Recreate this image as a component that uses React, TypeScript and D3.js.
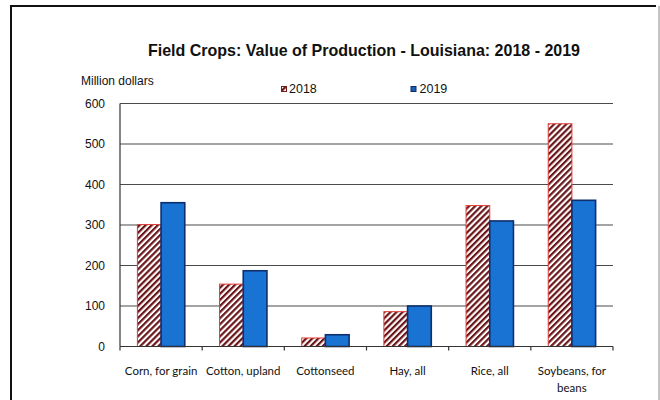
import React from "react";
import * as d3 from "d3";

const categories = ["Corn, for grain", "Cotton, upland", "Cottonseed", "Hay, all", "Rice, all", "Soybeans, for beans"];
const seriesNames = ["2018", "2019"];
const values2018 = [301, 154, 21, 86, 348, 550];
const values2019 = [355, 187, 29, 100, 310, 361];
const yTicks = [0, 100, 200, 300, 400, 500, 600];
const title = "Field Crops: Value of Production - Louisiana: 2018 - 2019";
const yAxisTitle = "Million dollars";

const W = 660;
const H = 400;
const plot = { left: 120, right: 613, top: 103.5, bottom: 346.5 };

function wrap(label: string, maxChars: number): string[] {
  if (label.length <= maxChars + 2) return [label];
  const words = label.split(" ");
  const lines: string[] = [];
  let cur = "";
  for (const w of words) {
    const t = cur ? cur + " " + w : w;
    if (t.length > maxChars && cur) {
      lines.push(cur);
      cur = w;
    } else cur = t;
  }
  if (cur) lines.push(cur);
  return lines;
}

export default function App() {
  const x0 = d3.scaleBand<string>().domain(categories).range([plot.left, plot.right]).paddingInner(0).paddingOuter(0);
  const x1 = d3.scaleBand<string>().domain(seriesNames).range([0, x0.bandwidth()]).paddingInner(0).paddingOuter(0.734);
  const y = d3.scaleLinear().domain([0, 600]).range([plot.bottom, plot.top]);
  const narrow = "'Liberation Sans Narrow', 'Arial Narrow', 'Liberation Sans', Arial, sans-serif";
  const data = [values2018, values2019];
  const boundaries = categories.map((c) => x0(c) as number).concat([plot.right]);

  return (
    <svg width={W} height={H} style={{ position: "absolute", left: 0, top: 0, background: "#fff" }}>
      <defs>
        <pattern id="hatch" patternUnits="userSpaceOnUse" width={4.3} height={4.3} patternTransform="rotate(45)">
          <rect x={0} y={0} width={4.3} height={4.3} fill="#fff" />
          <rect x={0} y={0} width={2.2} height={4.3} fill="#6a1518" />
        </pattern>
      </defs>
      {/* frame */}
      <line x1={11} x2={11} y1={6} y2={H} stroke="#111" strokeWidth={2} />
      <line x1={10} x2={656} y1={6} y2={6} stroke="#111" strokeWidth={2} />
      <line x1={659} x2={659} y1={6} y2={H} stroke="#888" strokeWidth={1} />

      <text x={364} y={56} textAnchor="middle" fontFamily={narrow} fontWeight="bold" fontSize={17} textLength={432} lengthAdjust="spacingAndGlyphs" fill="#111">
        {title}
      </text>
      <text x={81} y={85} fontFamily={narrow} fontSize={12} fill="#111">{yAxisTitle}</text>

      {/* legend */}
      <rect x={281.5} y={86.5} width={5} height={5} fill="url(#hatch)" stroke="#7a1a1a" strokeWidth={1} />
      <text x={289} y={93} fontFamily="'Liberation Sans', Arial, sans-serif" fontSize={12.5} fill="#111">{seriesNames[0]}</text>
      <rect x={411} y={86.5} width={5} height={5} fill="#1a5fb0" stroke="#0e2a66" strokeWidth={1} />
      <text x={419.5} y={93} fontFamily="'Liberation Sans', Arial, sans-serif" fontSize={12.5} fill="#111">{seriesNames[1]}</text>

      {/* gridlines */}
      {yTicks.map((t) => (
        <g key={t}>
          {t > 0 && <line x1={plot.left} x2={plot.right} y1={y(t)} y2={y(t)} stroke="#4a4a4a" strokeWidth={1.2} />}
          <text x={105} y={y(t)} dy="0.35em" textAnchor="end" fontFamily={narrow} fontSize={12} fill="#111">{t}</text>
        </g>
      ))}

      {/* bars */}
      {categories.map((c, i) => (
        <g key={c} transform={`translate(${x0(c)},0)`}>
          {seriesNames.map((s, j) => {
            const v = data[j][i];
            const bx = x1(s) as number;
            const by = y(v);
            const bh = y(0) - y(v);
            return j === 0 ? (
              <rect key={s} x={bx} y={by} width={x1.bandwidth()} height={bh} fill="url(#hatch)" stroke="#e23b36" strokeWidth={1} />
            ) : (
              <rect key={s} x={bx} y={by} width={x1.bandwidth()} height={bh} fill="#1873d3" stroke="#0f2f6e" strokeWidth={1.6} />
            );
          })}
        </g>
      ))}

      {/* axes */}
      <line x1={plot.left} x2={plot.left} y1={plot.top} y2={plot.bottom} stroke="#333" strokeWidth={1.2} />
      <line x1={plot.left} x2={plot.right} y1={plot.bottom} y2={plot.bottom} stroke="#333" strokeWidth={1.2} />
      {boundaries.map((b, i) => (
        <line key={i} x1={b} x2={b} y1={plot.bottom} y2={plot.bottom + 4} stroke="#333" strokeWidth={1.2} />
      ))}

      {/* category labels */}
      {categories.map((c) => {
        const lines = wrap(c, 14);
        const cx = (x0(c) as number) + x0.bandwidth() / 2;
        return (
          <text key={c} x={cx} y={375} textAnchor="middle" fontFamily="Lato, 'Open Sans', sans-serif" fontSize={11.5} fill="#111">
            {lines.map((l, k) => (
              <tspan key={k} x={cx} dy={k === 0 ? 0 : 17}>{l}</tspan>
            ))}
          </text>
        );
      })}
    </svg>
  );
}
